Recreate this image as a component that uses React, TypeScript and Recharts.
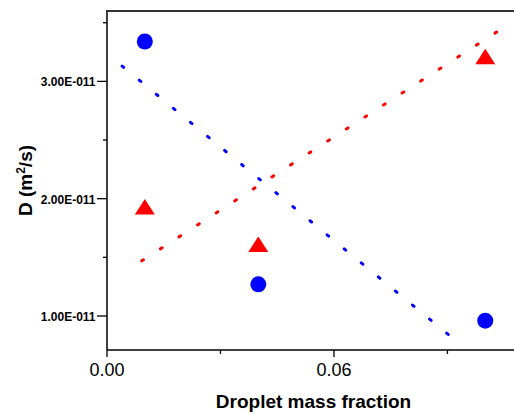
import React from 'react';
import { ComposedChart, Scatter, Line, XAxis, YAxis, Label } from 'recharts';

// measured points
const circleX = [0.01, 0.04, 0.1];
const circleY = [3.34e-11, 1.27e-11, 0.96e-11];
const triX = [0.01, 0.04, 0.1];
const triY = [1.93e-11, 1.61e-11, 3.21e-11];

// dotted fit lines (end points)
const blueFitX = [0.004, 0.0903];
const blueFitY = [3.13e-11, 0.84e-11];
const redFitX = [0.0092, 0.103];
const redFitY = [1.47e-11, 3.42e-11];

const xTicks = [0, 0.03, 0.06, 0.09];
const xTickLabels = ['0.00', '', '0.06', ''];
const yTicks = [1e-11, 1.5e-11, 2e-11, 2.5e-11, 3e-11, 3.5e-11];
const yTickLabels = ['1.00E-011', '', '2.00E-011', '', '3.00E-011', ''];

const xMax = 0.1076;
const yMin = 0.71e-11;
const yMax = 3.6e-11;

const W = 514;
const H = 414;

const zip = (xs, ys) => xs.map((x, i) => ({ x, y: ys[i] }));
const circles = zip(circleX, circleY);
const triangles = zip(triX, triY);
const blueFit = zip(blueFitX, blueFitY);
const redFit = zip(redFitX, redFitY);

const FONT = '"Liberation Sans", Arial, sans-serif';
const DOTS = '2 20.12';

const XTick = (props) => {
  const { x, y, index } = props;
  const label = xTickLabels[index];
  const len = label ? 7 : 4;
  return (
    <g>
      <line x1={x} x2={x} y1={y} y2={y + len} stroke="#000" strokeWidth={1.3} />
      {label && (
        <text x={x} y={y + 26} textAnchor="middle" fontFamily={FONT} fontSize={18} fill="#000">
          {label}
        </text>
      )}
    </g>
  );
};

const YTick = (props) => {
  const { x, y, index } = props;
  const label = yTickLabels[index];
  const len = label ? 10 : 4;
  return (
    <g>
      <line x1={x - len} x2={x} y1={y} y2={y} stroke="#000" strokeWidth={1.3} />
      {label && (
        <text x={x - 11.5} y={y + 5} textAnchor="end" fontFamily={FONT} fontSize={12} fontWeight="bold" fill="#000">
          {label}
        </text>
      )}
    </g>
  );
};

// y title, plus the top frame line running from the axis corner to the right edge
const YTitle = ({ viewBox }) => {
  const cx = viewBox.x + 31.5;
  const cy = viewBox.y + viewBox.height / 2;
  const top = viewBox.y;
  return (
    <g>
      <line x1={viewBox.x + viewBox.width - 1} x2={W} y1={top} y2={top} stroke="#333" strokeWidth={2} />
      <text
        x={cx}
        y={cy}
        transform={`rotate(-90, ${cx}, ${cy})`}
        textAnchor="middle"
        fontFamily={FONT}
        fontSize={19}
        fontWeight="bold"
        fill="#000"
      >
        D (m<tspan dy={-7} fontSize={12}>2</tspan>
        <tspan dy={7}>/s)</tspan>
      </text>
    </g>
  );
};

const XTitle = ({ viewBox }) => (
  <text
    x={viewBox.x + viewBox.width / 2 + 3}
    y={viewBox.y + 58}
    textAnchor="middle"
    fontFamily={FONT}
    fontSize={19}
    fontWeight="bold"
    fill="#000"
  >
    Droplet mass fraction
  </text>
);

const Dot = (props) => <circle cx={props.cx} cy={props.cy} r={8} fill="#0000ff" />;

const Tri = (props) => {
  const { cx, cy } = props;
  return (
    <polygon
      points={`${cx - 10},${cy + 7.5} ${cx + 10},${cy + 7.5} ${cx},${cy - 8}`}
      fill="#ff0000"
    />
  );
};

export default function App() {
  return (
    <div style={{ position: 'absolute', left: 0, top: 0 }}>
      <ComposedChart width={W} height={H} margin={{ top: 11, right: 0, bottom: 0, left: 0 }}>
        <XAxis
          type="number"
          dataKey="x"
          domain={[0, xMax]}
          ticks={xTicks}
          tick={<XTick />}
          tickLine={false}
          tickSize={0}
          tickMargin={0}
          height={64}
          allowDataOverflow
          axisLine={{ stroke: '#000', strokeWidth: 1.5 }}
        >
          <Label content={XTitle} />
        </XAxis>
        <YAxis
          type="number"
          dataKey="y"
          domain={[yMin, yMax]}
          ticks={yTicks}
          tick={<YTick />}
          tickLine={false}
          tickSize={0}
          tickMargin={0}
          width={107}
          allowDataOverflow
          axisLine={{ stroke: '#000', strokeWidth: 1.5 }}
        >
          <Label content={YTitle} />
        </YAxis>
        <Line
          data={blueFit}
          dataKey="y"
          type="linear"
          stroke="#0000ff"
          strokeWidth={3}
          strokeDasharray={DOTS}
          strokeLinecap="round"
          dot={false}
          activeDot={false}
          isAnimationActive={false}
        />
        <Line
          data={redFit}
          dataKey="y"
          type="linear"
          stroke="#ff0000"
          strokeWidth={3}
          strokeDasharray={DOTS}
          strokeLinecap="round"
          dot={false}
          activeDot={false}
          isAnimationActive={false}
        />
        <Scatter data={circles} dataKey="y" shape={Dot} isAnimationActive={false} />
        <Scatter data={triangles} dataKey="y" shape={Tri} isAnimationActive={false} />
      </ComposedChart>
    </div>
  );
}
